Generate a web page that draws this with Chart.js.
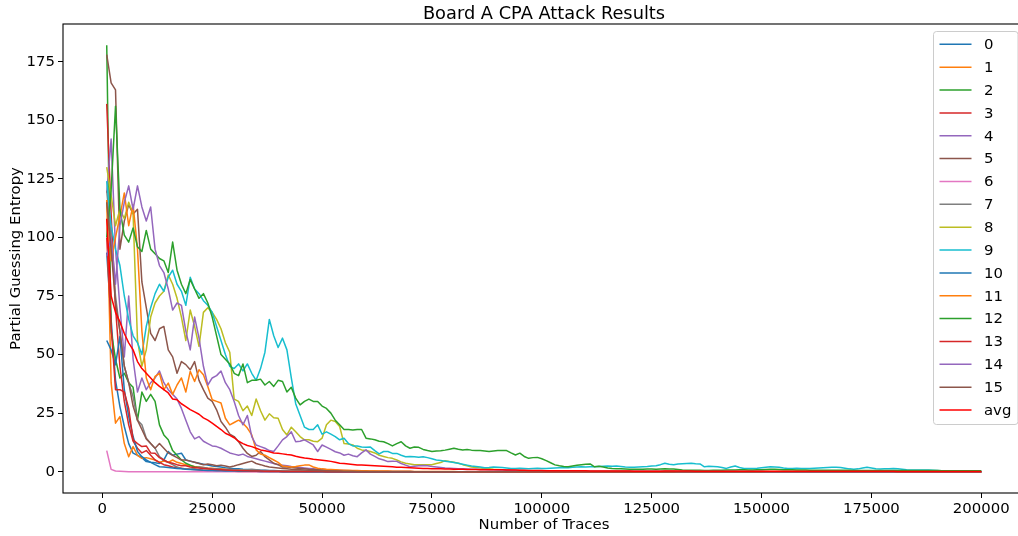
<!DOCTYPE html>
<html>
<head>
<meta charset="utf-8">
<script src="https://cdn.jsdelivr.net/npm/chart.js@4.4.1/dist/chart.umd.min.js"></script>
<style>
  html, body { margin: 0; padding: 0; background: #fff; overflow: hidden; }
  #wrap { position: relative; width: 1030px; height: 536px; }
</style>
</head>
<body>
<div id="wrap"><canvas id="chart"></canvas></div>
<script>
// number of traces: 1000 .. 200000, one point every 1000
const traces = [];
for (let n = 1000; n <= 200000; n += 1000) traces.push(n);

const xTicks = [0, 25000, 50000, 75000, 100000, 125000, 150000, 175000, 200000];
const yTicks = [0, 25, 50, 75, 100, 125, 150, 175];

const s0 = [
  93.5, 65, 39, 27.8, 19.3, 12, 7.9, 7, 6, 4.3,
  4, 3.8, 3.5, 5, 8.6, 7, 7.5, 7.9, 5, 4.5,
  4, 3.6, 3.2, 2.8, 2.4, 2.2, 2, 1.7, 1.5, 1.3,
  1.2, 1, 0.9, 0.8, 0.7, 0.6, 0.6, 0.5, 0.5, 0.4,
  0.4, 0.3, 0.3, 0.3, 0.2, 0.2, 0.2, 0.1, 0.1, 0.1,
  0, 0, 0, 0, 0, 0, 0, 0, 0, 0,
  0, 0, 0, 0, 0, 0, 0, 0, 0, 0,
  0, 0, 0, 0, 0, 0, 0, 0, 0, 0,
  0, 0, 0, 0, 0, 0, 0, 0, 0, 0,
  0, 0, 0, 0, 0, 0, 0, 0, 0, 0,
  0, 0, 0, 0, 0, 0, 0, 0, 0, 0,
  0, 0, 0, 0, 0, 0, 0, 0, 0, 0,
  0, 0, 0, 0, 0, 0, 0, 0, 0, 0,
  0, 0, 0, 0, 0, 0, 0, 0, 0, 0,
  0, 0, 0, 0, 0, 0, 0, 0, 0, 0,
  0, 0, 0, 0, 0, 0, 0, 0, 0, 0,
  0, 0, 0, 0, 0, 0, 0, 0, 0, 0,
  0, 0, 0, 0, 0, 0, 0, 0, 0, 0,
  0, 0, 0, 0, 0, 0, 0, 0, 0, 0,
  0, 0, 0, 0, 0, 0, 0, 0, 0, 0
];
const s1 = [
  116, 38, 20.7, 23.5, 12, 6.4, 10.7, 7, 5.7, 6,
  5.5, 5, 4, 4.5, 4, 5, 4, 3.5, 3, 2.5,
  2.2, 2, 1.8, 1.6, 1.5, 1.3, 1.2, 1, 0.9, 0.8,
  0.7, 0.6, 0.6, 0.5, 0.5, 0.4, 0.4, 0.3, 0.3, 0.3,
  0.2, 0.2, 0.2, 0.2, 0.2, 0.1, 0.1, 0.1, 0.1, 0.1,
  0, 0, 0, 0, 0, 0, 0, 0, 0, 0,
  0, 0, 0, 0, 0, 0, 0, 0, 0, 0,
  0, 0, 0, 0, 0, 0, 0, 0, 0, 0,
  0, 0, 0, 0, 0, 0, 0, 0, 0, 0,
  0, 0, 0, 0, 0, 0, 0, 0, 0, 0,
  0, 0, 0, 0, 0, 0, 0, 0, 0, 0,
  0, 0, 0, 0, 0, 0, 0, 0, 0, 0,
  0, 0, 0, 0, 0, 0, 0, 0, 0, 0,
  0, 0, 0, 0, 0, 0, 0, 0, 0, 0,
  0, 0, 0, 0, 0, 0, 0, 0, 0, 0,
  0, 0, 0, 0, 0, 0, 0, 0, 0, 0,
  0, 0, 0, 0, 0, 0, 0, 0, 0, 0,
  0, 0, 0, 0, 0, 0, 0, 0, 0, 0,
  0, 0, 0, 0, 0, 0, 0, 0, 0, 0,
  0, 0, 0, 0, 0, 0, 0, 0, 0, 0
];
const s2 = [
  182, 60, 48, 40, 42, 38, 36, 22, 34, 30,
  33, 30, 20, 15.7, 13.6, 9, 7, 5, 3.6, 2.8,
  2, 1.8, 1.5, 1.2, 1, 0.9, 0.8, 0.6, 0.5, 0.5,
  0.4, 0.4, 0.3, 0.3, 0.2, 0.2, 0.2, 0.1, 0.1, 0.1,
  0, 0, 0, 0, 0, 0, 0, 0, 0, 0,
  0, 0, 0, 0, 0, 0, 0, 0, 0, 0,
  0, 0, 0, 0, 0, 0, 0, 0, 0, 0,
  0, 0, 0, 0, 0, 0, 0, 0, 0, 0,
  0, 0, 0, 0, 0, 0, 0, 0, 0, 0,
  0, 0, 0, 0, 0, 0, 0, 0, 0, 0,
  0, 0, 0, 0, 0, 0, 0, 0, 0, 0,
  0, 0, 0, 0, 0, 0, 0, 0, 0, 0,
  0, 0, 0, 0, 0, 0, 0, 0, 0, 0,
  0, 0, 0, 0, 0, 0, 0, 0, 0, 0,
  0, 0, 0, 0, 0, 0, 0, 0, 0, 0,
  0, 0, 0, 0, 0, 0, 0, 0, 0, 0,
  0, 0, 0, 0, 0, 0, 0, 0, 0, 0,
  0, 0, 0, 0, 0, 0, 0, 0, 0, 0,
  0, 0, 0, 0, 0, 0, 0, 0, 0, 0,
  0, 0, 0, 0, 0, 0, 0, 0, 0, 0
];
const s3 = [
  157, 110, 70, 45, 30, 20, 13, 10, 8, 9,
  7, 5, 4, 3, 2.5, 2, 1.8, 1.5, 1.2, 1,
  0.9, 0.8, 0.6, 0.5, 0.5, 0.4, 0.3, 0.3, 0.2, 0.2,
  0.1, 0.1, 0.1, 0.1, 0.1, 0, 0, 0, 0, 0,
  0, 0, 0, 0, 0, 0, 0, 0, 0, 0,
  0, 0, 0, 0, 0, 0, 0, 0, 0, 0,
  0, 0, 0, 0, 0, 0, 0, 0, 0, 0,
  0, 0, 0, 0, 0, 0, 0, 0, 0, 0,
  0, 0, 0, 0, 0, 0, 0, 0, 0, 0,
  0, 0, 0, 0, 0, 0, 0, 0, 0, 0,
  0, 0, 0, 0, 0, 0, 0, 0, 0, 0,
  0, 0, 0, 0, 0, 0, 0, 0, 0, 0,
  0, 0, 0, 0, 0, 0, 0, 0, 0, 0,
  0, 0, 0, 0, 0, 0, 0, 0, 0, 0,
  0, 0, 0, 0, 0, 0, 0, 0, 0, 0,
  0, 0, 0, 0, 0, 0, 0, 0, 0, 0,
  0, 0, 0, 0, 0, 0, 0, 0, 0, 0,
  0, 0, 0, 0, 0, 0, 0, 0, 0, 0,
  0, 0, 0, 0, 0, 0, 0, 0, 0, 0,
  0, 0, 0, 0, 0, 0, 0, 0, 0, 0
];
const s4 = [
  119, 142, 95, 70, 49, 75, 48, 34, 40, 35,
  38, 40, 43, 38, 35, 33, 31, 27, 22, 17,
  14, 15, 13, 12, 11, 10.7, 10, 9, 8, 7.5,
  7, 7.5, 6.5, 6, 5.5, 5, 4.5, 4, 3.5, 3,
  2.8, 2.5, 2.2, 2, 1.8, 1.6, 1.4, 1.2, 1, 0.9,
  0.8, 0.7, 0.6, 0.5, 0.5, 0.4, 0.4, 0.3, 0.3, 0.3,
  0.2, 0.2, 0.2, 0.2, 0.2, 0.1, 0.1, 0.1, 0.1, 0.1,
  0, 0, 0, 0, 0, 0, 0, 0, 0, 0,
  0, 0, 0, 0, 0, 0, 0, 0, 0, 0,
  0, 0, 0, 0, 0, 0, 0, 0, 0, 0,
  0, 0, 0, 0, 0, 0, 0, 0, 0, 0,
  0, 0, 0, 0, 0, 0, 0, 0, 0, 0,
  0, 0, 0, 0, 0, 0, 0, 0, 0, 0,
  0, 0, 0, 0, 0, 0, 0, 0, 0, 0,
  0, 0, 0, 0, 0, 0, 0, 0, 0, 0,
  0, 0, 0, 0, 0, 0, 0, 0, 0, 0,
  0, 0, 0, 0, 0, 0, 0, 0, 0, 0,
  0, 0, 0, 0, 0, 0, 0, 0, 0, 0,
  0, 0, 0, 0, 0, 0, 0, 0, 0, 0,
  0, 0, 0, 0, 0, 0, 0, 0, 0, 0
];
const s5 = [
  178, 166, 163, 95, 107, 114, 110, 112, 81, 70,
  59, 56, 61, 62, 52, 49, 42, 47, 45.7, 43.5,
  47, 39, 35, 31.4, 30, 26.4, 21.4, 19, 16, 15,
  12.8, 10, 7.8, 6.5, 7, 8.6, 6.4, 5, 3.6, 3,
  2, 2, 1.8, 1.6, 1.4, 1.2, 1, 0.9, 0.8, 0.7,
  0.6, 0.5, 0.5, 0.4, 0.4, 0.3, 0.3, 0.3, 0.2, 0.2,
  0.2, 0.2, 0.1, 0.1, 0.1, 0.1, 0.1, 0.1, 0.1, 0.1,
  0, 0, 0, 0, 0, 0, 0, 0, 0, 0,
  0, 0, 0, 0, 0, 0, 0, 0, 0, 0,
  0, 0, 0, 0, 0, 0, 0, 0, 0, 0,
  0, 0, 0, 0, 0, 0, 0, 0, 0, 0,
  0, 0, 0, 0, 0, 0, 0, 0, 0, 0,
  0, 0, 0, 0, 0, 0, 0, 0, 0, 0,
  0, 0, 0, 0, 0, 0, 0, 0, 0, 0,
  0, 0, 0, 0, 0, 0, 0, 0, 0, 0,
  0, 0, 0, 0, 0, 0, 0, 0, 0, 0,
  0, 0, 0, 0, 0, 0, 0, 0, 0, 0,
  0, 0, 0, 0, 0, 0, 0, 0, 0, 0,
  0, 0, 0, 0, 0, 0, 0, 0, 0, 0,
  0, 0, 0, 0, 0, 0, 0, 0, 0, 0
];
const s6 = [
  9, 1, 0.3, 0.2, 0.1, 0, 0, 0, 0, 0,
  0, 0, 0, 0, 0, 0, 0, 0, 0, 0,
  0, 0, 0, 0, 0, 0, 0, 0, 0, 0,
  0, 0, 0, 0, 0, 0, 0, 0, 0, 0,
  0, 0, 0, 0, 0, 0, 0, 0, 0, 0,
  0, 0, 0, 0, 0, 0, 0, 0, 0, 0,
  0, 0, 0, 0, 0, 0, 0, 0, 0, 0,
  0, 0, 0, 0, 0, 0, 0, 0, 0, 0,
  0, 0, 0, 0, 0, 0, 0, 0, 0, 0,
  0, 0, 0, 0, 0, 0, 0, 0, 0, 0,
  0, 0, 0, 0, 0, 0, 0, 0, 0, 0,
  0, 0, 0, 0, 0, 0, 0, 0, 0, 0,
  0, 0, 0, 0, 0, 0, 0, 0, 0, 0,
  0, 0, 0, 0, 0, 0, 0, 0, 0, 0,
  0, 0, 0, 0, 0, 0, 0, 0, 0, 0,
  0, 0, 0, 0, 0, 0, 0, 0, 0, 0,
  0, 0, 0, 0, 0, 0, 0, 0, 0, 0,
  0, 0, 0, 0, 0, 0, 0, 0, 0, 0,
  0, 0, 0, 0, 0, 0, 0, 0, 0, 0,
  0, 0, 0, 0, 0, 0, 0, 0, 0, 0
];
const s7 = [
  120, 100, 75, 60, 45, 38, 32, 22, 20, 14.3,
  12, 10, 6.4, 5, 4, 3, 2, 1.4, 1.2, 1,
  1.5, 2, 1.8, 1.5, 1.3, 1.2, 1, 0.9, 0.8, 0.8,
  0.7, 0.6, 0.8, 1, 0.8, 0.6, 0.5, 0.4, 0.4, 0.3,
  0.3, 0.3, 0.2, 0.2, 0.2, 0.1, 0.1, 0.1, 0.1, 0.1,
  0, 0, 0, 0, 0, 0, 0, 0, 0, 0,
  0, 0, 0, 0, 0, 0, 0, 0, 0, 0,
  0, 0, 0, 0, 0, 0, 0, 0, 0, 0,
  0, 0, 0, 0, 0, 0, 0, 0, 0, 0,
  0, 0, 0, 0, 0, 0, 0, 0, 0, 0,
  0, 0, 0, 0, 0, 0, 0, 0, 0, 0,
  0, 0, 0, 0, 0, 0, 0, 0, 0, 0,
  0, 0, 0, 0, 0, 0, 0, 0, 0, 0,
  0, 0, 0, 0, 0, 0, 0, 0, 0, 0,
  0, 0, 0, 0, 0, 0, 0, 0, 0, 0,
  0, 0, 0, 0, 0, 0, 0, 0, 0, 0,
  0, 0, 0, 0, 0, 0, 0, 0, 0, 0,
  0, 0, 0, 0, 0, 0, 0, 0, 0, 0,
  0, 0, 0, 0, 0, 0, 0, 0, 0, 0,
  0, 0, 0, 0, 0, 0, 0, 0, 0, 0
];
const s8 = [
  130, 118, 105, 112, 108, 115, 110, 56, 45, 52,
  66, 72, 75, 77, 84, 80, 74, 66, 56, 69,
  62, 53.5, 68, 70, 68, 65, 61, 55, 51, 31,
  30, 26, 28, 24, 31, 26, 22, 24.7, 23, 22.8,
  18, 15.7, 19, 17, 15, 13.6, 13.6, 13, 12.8, 14.3,
  20, 22, 21.4, 19.3, 12, 11.8, 11.4, 10, 9.3, 9,
  8.6, 8, 7, 6.5, 6, 5.7, 5, 4.2, 3.6, 3.3,
  3, 3, 3, 3, 3, 3.5, 3.9, 4.7, 4.3, 4,
  3.6, 3, 2.5, 2, 1.8, 1.6, 1.4, 1.2, 1, 0.9,
  0.8, 0.7, 0.6, 0.5, 0.5, 0.4, 0.4, 0.3, 0.3, 0.3,
  0.2, 0.2, 0.2, 0.2, 0.2, 0.2, 0.2, 0.2, 0.2, 0.2,
  0.2, 0.2, 0.2, 0.2, 0.2, 0.2, 0.2, 0.2, 0.2, 0.2,
  0.2, 0.2, 0.2, 0.2, 0.2, 0.2, 0.2, 0.2, 0.2, 0.2,
  0.1, 0.1, 0.1, 0.1, 0.1, 0.1, 0.1, 0.1, 0.1, 0.1,
  0.1, 0.1, 0.1, 0.1, 0.1, 0.1, 0.1, 0.1, 0.1, 0.1,
  0.1, 0.1, 0.1, 0.1, 0.1, 0.1, 0.1, 0.1, 0.1, 0.1,
  0.1, 0.1, 0.1, 0.1, 0.1, 0.1, 0.1, 0.1, 0.1, 0.1,
  0.1, 0.1, 0.1, 0.1, 0.1, 0.1, 0.1, 0.1, 0.1, 0.1,
  0.1, 0.1, 0.1, 0.1, 0.1, 0.1, 0.1, 0.1, 0.1, 0.1,
  0.1, 0.1, 0.1, 0.1, 0.1, 0.1, 0.1, 0.1, 0.1, 0.1
];
const s9 = [
  124, 105, 95, 88, 75, 65, 58, 55, 50, 62,
  70, 76, 80, 77, 83, 86, 80, 77, 71, 83,
  78, 76, 73, 71, 68, 62, 56, 50, 45, 44,
  46, 43, 46, 42, 39, 44, 51, 65, 58, 53,
  57, 52, 40, 29, 24, 19, 18, 18, 20, 16,
  17, 16, 15, 13.6, 14.3, 12, 11, 11, 10.5, 10.4,
  10.5, 9, 7.6, 8.6, 8.6, 7.8, 7.8, 7, 6.4, 6.5,
  6.4, 6.2, 6.4, 6, 5.5, 5, 4.8, 4.5, 4.2, 3.9,
  3.6, 3.2, 2.8, 2.4, 2.2, 2, 1.7, 1.8, 2, 1.9,
  1.8, 1.6, 1.4, 1.4, 1.5, 1.4, 1.3, 1.4, 1.5, 1.4,
  1.4, 1.5, 1.6, 1.7, 1.8, 1.7, 1.9, 2, 2.1, 2,
  2.1, 2.1, 2.2, 2.3, 2.4, 2.3, 2.4, 2.2, 2, 1.9,
  1.9, 2, 2.1, 2.2, 2.4, 2.5, 3, 3.6, 3.2, 3,
  3.3, 3.4, 3.5, 3.6, 3.4, 3.3, 2.1, 2.3, 2.2, 2.1,
  1.8, 1.4, 2, 2.4, 1.8, 1.4, 1.4, 1.4, 1.5, 1.7,
  1.9, 2.1, 2, 1.9, 1.6, 1.4, 1.4, 1.5, 1.4, 1.4,
  1.4, 1.5, 1.6, 1.7, 1.8, 1.9, 1.9, 1.8, 1.5, 1.2,
  1, 1.2, 1.6, 1.9, 1.6, 1.3, 1.1, 1.2, 1.3, 1.4,
  1.2, 1, 0.8, 0.7, 0.7, 0.7, 0.7, 0.7, 0.6, 0.5,
  0.4, 0.3, 0.3, 0.3, 0.3, 0.3, 0.3, 0.3, 0.3, 0.3
];
const s10 = [
  56, 52, 45.6, 57.8, 35, 23.5, 15, 8.6, 6.4, 5,
  4, 3, 2.1, 2, 1.8, 1.6, 1.4, 1.2, 1, 0.9,
  0.8, 0.7, 0.6, 0.5, 0.5, 0.4, 0.4, 0.3, 0.3, 0.3,
  0.2, 0.2, 0.2, 0.2, 0.2, 0.1, 0.1, 0.1, 0.1, 0.1,
  0, 0, 0, 0, 0, 0, 0, 0, 0, 0,
  0, 0, 0, 0, 0, 0, 0, 0, 0, 0,
  0, 0, 0, 0, 0, 0, 0, 0, 0, 0,
  0, 0, 0, 0, 0, 0, 0, 0, 0, 0,
  0, 0, 0, 0, 0, 0, 0, 0, 0, 0,
  0, 0, 0, 0, 0, 0, 0, 0, 0, 0,
  0, 0, 0, 0, 0, 0, 0, 0, 0, 0,
  0, 0, 0, 0, 0, 0, 0, 0, 0, 0,
  0, 0, 0, 0, 0, 0, 0, 0, 0, 0,
  0, 0, 0, 0, 0, 0, 0, 0, 0, 0,
  0, 0, 0, 0, 0, 0, 0, 0, 0, 0,
  0, 0, 0, 0, 0, 0, 0, 0, 0, 0,
  0, 0, 0, 0, 0, 0, 0, 0, 0, 0,
  0, 0, 0, 0, 0, 0, 0, 0, 0, 0,
  0, 0, 0, 0, 0, 0, 0, 0, 0, 0,
  0, 0, 0, 0, 0, 0, 0, 0, 0, 0
];
const s11 = [
  116, 90, 100, 109, 119, 105, 114, 95, 60, 40,
  35, 40.7, 42, 35, 37.8, 33, 37, 40, 34, 42.8,
  38.5, 43.5, 41.4, 36.4, 30.7, 30, 29.3, 22.8, 20, 21,
  22, 20.7, 18.6, 15.7, 9.3, 7.5, 7, 6, 5, 4,
  2.4, 2.2, 2, 2.2, 2.5, 2.8, 2.9, 2, 1.5, 1.2,
  1, 0.9, 0.8, 0.7, 0.6, 0.6, 0.5, 0.5, 0.4, 0.4,
  0.3, 0.3, 0.3, 0.3, 0.3, 0.2, 0.2, 0.2, 0.2, 0.2,
  0.1, 0.1, 0.1, 0.1, 0.1, 0.1, 0.1, 0.1, 0.1, 0.1,
  0, 0, 0, 0, 0, 0, 0, 0, 0, 0,
  0, 0, 0, 0, 0, 0, 0, 0, 0, 0,
  0, 0, 0, 0, 0, 0, 0, 0, 0, 0,
  0, 0, 0, 0, 0, 0, 0, 0, 0, 0,
  0, 0, 0, 0, 0, 0, 0, 0, 0, 0,
  0, 0, 0, 0, 0, 0, 0, 0, 0, 0,
  0, 0, 0, 0, 0, 0, 0, 0, 0, 0,
  0, 0, 0, 0, 0, 0, 0, 0, 0, 0,
  0, 0, 0, 0, 0, 0, 0, 0, 0, 0,
  0, 0, 0, 0, 0, 0, 0, 0, 0, 0,
  0, 0, 0, 0, 0, 0, 0, 0, 0, 0,
  0, 0, 0, 0, 0, 0, 0, 0, 0, 0
];
const s12 = [
  100, 120, 156, 112, 101, 98, 104, 96, 94, 103,
  95, 93, 91, 90, 85, 98, 86, 80, 76, 82,
  78, 74, 76, 72, 66, 58, 50, 48, 46, 42,
  41, 46, 38, 39, 39, 39.5, 37, 38.5, 36.4, 39,
  38.5, 34, 36, 31.4, 28.5, 30, 31, 30, 30, 28,
  27, 25, 22, 20, 18, 18, 17.8, 18, 18, 14.3,
  14, 13.6, 13, 12.8, 12, 11, 12, 12.8, 11, 10,
  10.5, 10.4, 9.5, 9, 8.6, 8.8, 8.9, 9.2, 9.6, 10,
  9.6, 9.3, 9.5, 9.2, 9, 9, 8.8, 8.6, 8.8, 9,
  9, 9, 8, 7.1, 7.9, 6.5, 5.7, 6, 6.1, 5.5,
  4.7, 3.8, 2.9, 2.5, 2.2, 2.1, 2.4, 2.7, 3, 3.2,
  3.3, 2.1, 2.3, 2, 1.6, 1.4, 1.3, 1.2, 1.1, 1,
  1, 1, 1, 1.1, 1.1, 1, 1.1, 1.2, 1.1, 1.1,
  0.9, 0.7, 0.6, 0.6, 0.6, 0.6, 0.5, 0.5, 0.6, 0.6,
  0.6, 0.7, 0.7, 0.7, 0.8, 0.8, 0.7, 0.7, 0.8, 0.8,
  0.9, 1, 1, 0.9, 0.8, 0.8, 0.8, 0.7, 0.7, 0.7,
  0.6, 0.6, 0.6, 0.6, 0.6, 0.6, 0.6, 0.6, 0.6, 0.6,
  0.5, 0.5, 0.5, 0.5, 0.5, 0.5, 0.5, 0.5, 0.5, 0.5,
  0.5, 0.5, 0.5, 0.5, 0.5, 0.5, 0.5, 0.5, 0.5, 0.5,
  0.4, 0.4, 0.4, 0.4, 0.4, 0.4, 0.4, 0.4, 0.4, 0.4
];
const s13 = [
  100, 62, 35, 35, 34, 27, 13.6, 12, 10.7, 11,
  8, 7.9, 6, 5, 4, 3.6, 3, 2.5, 2.5, 2,
  1.8, 1.6, 1.4, 1.2, 1, 0.9, 0.8, 0.7, 0.6, 0.5,
  0.5, 0.4, 0.4, 0.3, 0.3, 0.3, 0.2, 0.2, 0.2, 0.2,
  0.1, 0.1, 0.1, 0.1, 0.1, 0.1, 0.1, 0.1, 0.1, 0.1,
  0, 0, 0, 0, 0, 0, 0, 0, 0, 0,
  0, 0, 0, 0, 0, 0, 0, 0, 0, 0,
  0, 0, 0, 0, 0, 0, 0, 0, 0, 0,
  0, 0, 0, 0, 0, 0, 0, 0, 0, 0,
  0, 0, 0, 0, 0, 0, 0, 0, 0, 0,
  0, 0, 0, 0, 0, 0, 0, 0, 0, 0,
  0, 0, 0, 0, 0, 0, 0, 0, 0, 0,
  0, 0, 0, 0, 0, 0, 0, 0, 0, 0,
  0, 0, 0, 0, 0, 0, 0, 0, 0, 0,
  0, 0, 0, 0, 0, 0, 0, 0, 0, 0,
  0, 0, 0, 0, 0, 0, 0, 0, 0, 0,
  0, 0, 0, 0, 0, 0, 0, 0, 0, 0,
  0, 0, 0, 0, 0, 0, 0, 0, 0, 0,
  0, 0, 0, 0, 0, 0, 0, 0, 0, 0,
  0, 0, 0, 0, 0, 0, 0, 0, 0, 0
];
const s14 = [
  92, 100, 80, 105, 115, 122, 112, 122, 113, 107,
  113, 95, 88, 85, 78, 69, 72, 71, 60, 52,
  66, 57, 45, 37, 40, 41, 43, 38, 35, 30,
  24, 20, 24, 15, 11.4, 10.7, 10, 9, 8.6, 11,
  13.6, 15, 17, 12.8, 13, 13.6, 12.5, 11.4, 8.6, 11.4,
  10.5, 9.5, 8.5, 8, 7, 7.5, 6.8, 6.4, 8, 9.3,
  7.5, 6.5, 5.5, 5, 4.3, 4.5, 4.4, 3.5, 2.8, 2.1,
  2.3, 2.5, 2.6, 2.5, 2.2, 2, 1.8, 1.6, 1.5, 1.4,
  1.3, 1.2, 1.1, 1, 1, 0.9, 0.9, 0.8, 0.8, 0.7,
  0.7, 0.6, 0.6, 0.5, 0.5, 0.5, 0.4, 0.4, 0.4, 0.3,
  0.3, 0.3, 0.3, 0.3, 0.3, 0.3, 0.3, 0.3, 0.3, 0.3,
  0.2, 0.2, 0.2, 0.2, 0.2, 0.2, 0.2, 0.2, 0.2, 0.2,
  0.2, 0.2, 0.2, 0.2, 0.2, 0.2, 0.2, 0.2, 0.2, 0.2,
  0.1, 0.1, 0.1, 0.1, 0.1, 0.1, 0.1, 0.1, 0.1, 0.1,
  0.1, 0.1, 0.1, 0.1, 0.1, 0.1, 0.1, 0.1, 0.1, 0.1,
  0, 0, 0, 0, 0, 0, 0, 0, 0, 0,
  0, 0, 0, 0, 0, 0, 0, 0, 0, 0,
  0, 0, 0, 0, 0, 0, 0, 0, 0, 0,
  0, 0, 0, 0, 0, 0, 0, 0, 0, 0,
  0, 0, 0, 0, 0, 0, 0, 0, 0, 0
];
const s15 = [
  115, 95, 72, 60, 45, 38, 28, 22, 18, 14,
  12, 10, 12, 10, 8, 7, 6, 5, 5, 4.5,
  4, 3.5, 3, 3.3, 3, 2.5, 2.8, 2.4, 2, 2.4,
  3, 3.5, 4, 4.5, 3.5, 3, 2.4, 2, 1.8, 1.6,
  1.4, 1.2, 1, 0.9, 0.8, 0.7, 0.6, 0.5, 0.5, 0.4,
  0.4, 0.3, 0.3, 0.3, 0.2, 0.2, 0.2, 0.1, 0.1, 0.1,
  0, 0, 0, 0, 0, 0, 0, 0, 0, 0,
  0, 0, 0, 0, 0, 0, 0, 0, 0, 0,
  0, 0, 0, 0, 0, 0, 0, 0, 0, 0,
  0, 0, 0, 0, 0, 0, 0, 0, 0, 0,
  0, 0, 0, 0, 0, 0, 0, 0, 0, 0,
  0, 0, 0, 0, 0, 0, 0, 0, 0, 0,
  0, 0, 0, 0, 0, 0, 0, 0, 0, 0,
  0, 0, 0, 0, 0, 0, 0, 0, 0, 0,
  0, 0, 0, 0, 0, 0, 0, 0, 0, 0,
  0, 0, 0, 0, 0, 0, 0, 0, 0, 0,
  0, 0, 0, 0, 0, 0, 0, 0, 0, 0,
  0, 0, 0, 0, 0, 0, 0, 0, 0, 0,
  0, 0, 0, 0, 0, 0, 0, 0, 0, 0,
  0, 0, 0, 0, 0, 0, 0, 0, 0, 0
];
const avg = [
  108, 75, 68, 64, 59, 55, 52, 47, 44, 42,
  40, 38, 36.4, 35, 33.6, 31, 30.7, 29, 27.8, 26.5,
  25.5, 24.5, 23, 22, 20.7, 19.3, 18, 16.4, 15.5, 14.5,
  13, 12, 11.2, 10.7, 10, 9.3, 8.9, 8.5, 8, 7.9,
  7.6, 7.3, 7.1, 6.6, 6.2, 5.8, 5.6, 5.3, 5.1, 4.9,
  4.7, 4.4, 4, 3.6, 3.5, 3.3, 3.1, 2.9, 2.8, 2.7,
  2.6, 2.5, 2.4, 2.3, 2.2, 2.1, 1.9, 1.9, 1.8, 1.7,
  1.6, 1.5, 1.4, 1.4, 1.3, 1.2, 1.2, 1.1, 1.1, 1,
  1, 1, 0.9, 0.9, 0.9, 0.8, 0.8, 0.8, 0.8, 0.8,
  0.8, 0.7, 0.7, 0.7, 0.6, 0.6, 0.5, 0.5, 0.5, 0.5,
  0.4, 0.4, 0.4, 0.4, 0.4, 0.4, 0.4, 0.4, 0.4, 0.4,
  0.3, 0.3, 0.3, 0.3, 0.3, 0.3, 0.3, 0.3, 0.3, 0.3,
  0.2, 0.2, 0.2, 0.2, 0.2, 0.2, 0.2, 0.3, 0.3, 0.3,
  0.3, 0.3, 0.3, 0.3, 0.2, 0.2, 0.2, 0.2, 0.2, 0.2,
  0.2, 0.2, 0.2, 0.2, 0.2, 0.2, 0.2, 0.2, 0.2, 0.2,
  0.2, 0.2, 0.2, 0.2, 0.2, 0.2, 0.2, 0.2, 0.2, 0.2,
  0.2, 0.2, 0.2, 0.2, 0.2, 0.2, 0.2, 0.2, 0.2, 0.2,
  0.2, 0.2, 0.2, 0.2, 0.2, 0.2, 0.2, 0.2, 0.2, 0.2,
  0.1, 0.1, 0.1, 0.1, 0.1, 0.1, 0.1, 0.1, 0.1, 0.1,
  0.1, 0.1, 0.1, 0.1, 0.1, 0.1, 0.1, 0.1, 0.1, 0.1
];

const seriesNames = ['0', '1', '2', '3', '4', '5', '6', '7', '8', '9',
                     '10', '11', '12', '13', '14', '15', 'avg'];
const seriesData = [s0, s1, s2, s3, s4, s5, s6, s7, s8, s9,
                    s10, s11, s12, s13, s14, s15, avg];
const tab10 = ['#1f77b4', '#ff7f0e', '#2ca02c', '#d62728', '#9467bd',
               '#8c564b', '#e377c2', '#7f7f7f', '#bcbd22', '#17becf'];
const seriesColors = seriesNames.map((n, i) => i < 16 ? tab10[i % 10] : '#ff0000');

const FONT = "'DejaVu Sans', sans-serif";
const LINE_W = 1.5;

const datasets = seriesData.map(function (vals, i) {
    return {
        label: seriesNames[i],
        data: vals.map(function (v, j) { return { x: traces[j], y: v }; }),
        borderColor: seriesColors[i],
        backgroundColor: seriesColors[i],
        borderWidth: LINE_W,
        borderJoinStyle: 'round',
        pointRadius: 0,
        fill: false,
        tension: 0,
        order: seriesData.length - 1 - i   // later series drawn on top, like matplotlib
    };
});

// axes frame, title and legend box
const decor = {
    id: 'decor',
    afterDraw: function (chart) {
        const ctx = chart.ctx;
        const a = chart.chartArea;
        ctx.save();

        // frame
        ctx.strokeStyle = '#000';
        ctx.lineWidth = 1.1;
        ctx.strokeRect(a.left, a.top, a.right - a.left, a.bottom - a.top);

        // title
        ctx.fillStyle = '#000';
        ctx.font = '17.8px ' + FONT;
        ctx.textAlign = 'center';
        ctx.textBaseline = 'alphabetic';
        ctx.fillText('Board A CPA Attack Results', (a.left + a.right) / 2, 19);

        // legend
        const bx = 933.5, by = 31.5, bw = 84.5, bh = 393;
        ctx.beginPath();
        ctx.roundRect(bx, by, bw, bh, 3);
        ctx.fillStyle = 'rgba(255,255,255,0.8)';
        ctx.fill();
        ctx.strokeStyle = '#cccccc';
        ctx.lineWidth = 1;
        ctx.stroke();

        ctx.font = '14.9px ' + FONT;
        ctx.textAlign = 'left';
        ctx.textBaseline = 'middle';
        for (let i = 0; i < seriesNames.length; i++) {
            const y = 44.3 + i * 22.86;
            ctx.beginPath();
            ctx.moveTo(939.5, y);
            ctx.lineTo(971.5, y);
            ctx.strokeStyle = seriesColors[i];
            ctx.lineWidth = LINE_W;
            ctx.stroke();
            ctx.fillStyle = '#000';
            ctx.fillText(seriesNames[i], 984, y + 1);
        }
        ctx.restore();
    }
};

new Chart(document.getElementById('chart'), {
    type: 'line',
    data: { datasets: datasets },
    options: {
        responsive: true,
        maintainAspectRatio: false,
        animation: false,
        layout: { padding: { top: 24, right: 5, left: 0, bottom: 0 } },
        plugins: {
            legend: { display: false },
            tooltip: { enabled: false },
            title: { display: false }
        },
        scales: {
            x: {
                type: 'linear',
                min: -8950,
                max: 209950,
                afterFit: function (s) { s.height = 43; },
                afterBuildTicks: function (s) { s.ticks = xTicks.map(function (v) { return { value: v }; }); },
                grid: { drawOnChartArea: false, drawTicks: true, tickLength: 5, color: '#000', lineWidth: 1 },
                border: { display: false },
                ticks: { color: '#000', font: { family: FONT, size: 14.9 }, padding: 2, maxRotation: 0,
                         callback: function (v) { return String(v); } },
                title: { display: true, text: 'Number of Traces', color: '#000',
                         font: { family: FONT, size: 14.9 }, padding: { top: 0, bottom: 2 } }
            },
            y: {
                type: 'linear',
                min: -9.1,
                max: 191.1,
                afterFit: function (s) { s.width = 63; },
                afterBuildTicks: function (s) { s.ticks = yTicks.map(function (v) { return { value: v }; }); },
                grid: { drawOnChartArea: false, drawTicks: true, tickLength: 5, color: '#000', lineWidth: 1 },
                border: { display: false },
                ticks: { color: '#000', font: { family: FONT, size: 14.9 }, padding: 3,
                         callback: function (v) { return String(v); } },
                title: { display: true, text: 'Partial Guessing Entropy', color: '#000',
                         font: { family: FONT, size: 14.9 }, padding: { top: 7, bottom: 0 } }
            }
        }
    },
    plugins: [decor]
});
</script>
</body>
</html>
